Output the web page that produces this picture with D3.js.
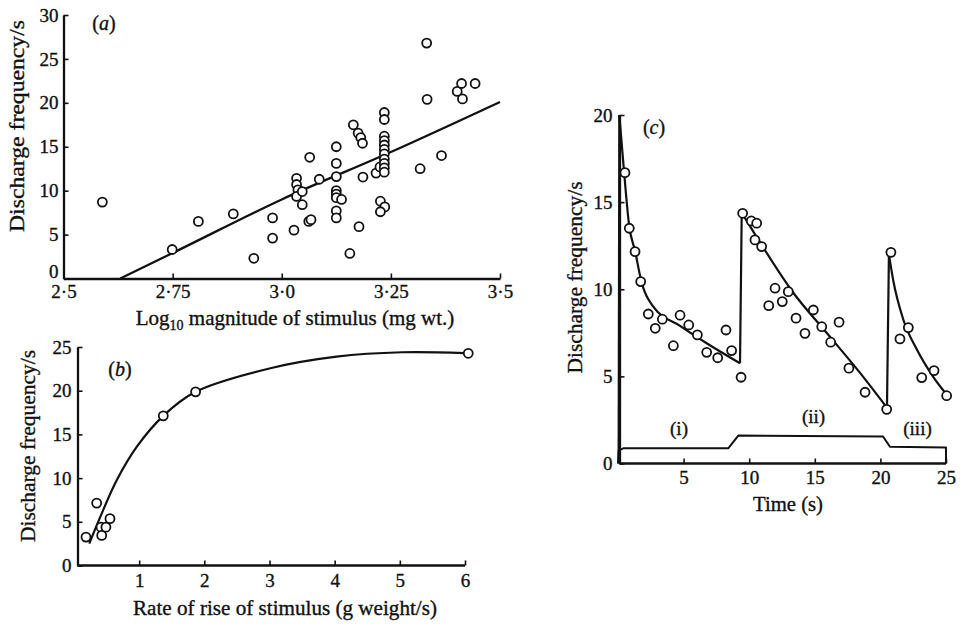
<!DOCTYPE html>
<html>
<head>
<meta charset="utf-8">
<script src="https://cdn.jsdelivr.net/npm/d3@7"></script>
<style>
  html, body { margin: 0; padding: 0; background: #fff; }
  svg { display: block; }
  text { font-family: "Liberation Serif", "Times New Roman", serif; fill: #111; stroke: #111; stroke-width: 0.35px; }
</style>
</head>
<body>
<svg id="chart" width="960" height="626"></svg>
<script>
// ---------- Panel (a): log stimulus vs discharge ----------
const aLogStim = [2.589, 2.749, 2.809, 2.889, 2.936, 2.979, 2.979, 3.028, 3.034, 3.034, 3.037, 3.034, 3.047, 3.047,
  3.064, 3.086, 3.062, 3.067, 3.125, 3.125, 3.125, 3.125, 3.125, 3.125, 3.137, 3.125, 3.125,
  3.156, 3.164, 3.175, 3.181, 3.185, 3.186, 3.177, 3.216, 3.225, 3.226, 3.236, 3.226, 3.235, 3.235,
  3.235, 3.235, 3.235, 3.235, 3.235, 3.235, 3.235, 3.235, 3.235,
  3.317, 3.332, 3.333, 3.366, 3.402, 3.412, 3.414, 3.443];
const aFreq = [8.7, 3.3, 6.5, 7.35, 2.3, 6.9, 4.6, 5.5, 11.4, 10.7, 10.1, 9.35, 9.9, 8.4,
  13.8, 11.3, 6.5, 6.7, 15.0, 13.1, 11.6, 10.0, 9.6, 9.2, 9.0, 7.7, 6.9,
  2.85, 17.5, 16.55, 16.05, 15.4, 11.55, 5.9, 12.0, 12.7, 8.8, 8.15, 7.6, 18.9, 18.1,
  16.2, 15.7, 15.2, 14.7, 14.2, 13.6, 13.1, 12.6, 12.1,
  12.5, 26.8, 20.4, 14.0, 21.3, 22.2, 20.45, 22.2];
const aFitX = [2.63, 2.75, 3.0, 3.25, 3.5];
const aFitY = [0, 2.9, 9.0, 14.4, 20.1];
const aXTicks = [2.5, 2.75, 3.0, 3.25, 3.5];
const aXTickLabels = ["2·5", "2·75", "3·0", "3·25", "3·5"];
const aYTicks = [0, 5, 10, 15, 20, 25, 30];

// ---------- Panel (b): rate of rise vs discharge ----------
const bRate = [0.184, 0.348, 0.414, 0.425, 0.49, 0.552, 1.37, 1.866, 6.05];
const bFreq = [3.25, 7.14, 4.39, 3.44, 4.39, 5.36, 17.12, 19.87, 24.28];
const bFitX = [0.235, 0.4, 0.655, 0.962, 1.37, 1.866, 3.03, 4.03, 5.03, 6.0];
const bFitY = [2.5, 5.5, 9.75, 13.57, 17.12, 19.87, 22.6, 23.9, 24.4, 24.3];
const bXTicks = [1, 2, 3, 4, 5, 6];
const bYTicks = [0, 5, 10, 15, 20, 25];

// ---------- Panel (c): time course ----------
const cTime = [0.53, 0.86, 1.30, 1.73, 2.31, 2.84, 3.38, 4.22, 4.73, 5.39, 6.05, 6.76, 7.6, 8.23, 8.66, 9.38,
  9.5, 10.16, 10.57, 10.44, 10.95, 11.49, 11.97, 12.52, 12.98, 13.57, 14.25, 14.89, 15.53, 16.21, 16.85, 17.6, 18.83, 20.48,
  20.8, 21.49, 22.13, 23.15, 24.09, 25.05];
const cFreq = [16.69, 13.5, 12.16, 10.44, 8.58, 7.76, 8.28, 6.76, 8.51, 7.95, 7.38, 6.38, 6.07, 7.66, 6.48, 4.95,
  14.36, 13.92, 13.79, 12.83, 12.45, 9.06, 10.06, 9.29, 9.86, 8.34, 7.47, 8.81, 7.85, 6.96, 8.11, 5.47, 4.09, 3.11,
  12.12, 7.15, 7.8, 4.93, 5.33, 3.89];
const cFit1T = [0.1, 0.4, 0.86, 1.3, 1.75, 2.69, 4.73, 6.76, 9.3];
const cFit1F = [20, 17.3, 13.6, 12.2, 10.55, 9.0, 7.9, 6.9, 5.75];
const cFit2T = [9.43, 10.57, 13.36, 15.9, 18.45, 20.5];
const cFit2F = [14.4, 13.0, 9.8, 7.5, 5.2, 3.2];
const cFit3T = [20.65, 20.98, 21.75, 22.77, 24.0, 25.0];
const cFit3F = [12.0, 10.5, 8.25, 6.55, 5.0, 4.0];
const cJumpT = [[0.05, 0.1], [9.3, 9.43], [20.5, 20.65]];
const cJumpF = [[0, 20], [5.75, 14.4], [3.2, 12.0]];
const stimT = [0, 0.05, 0.4, 8.4, 9.17, 20.2, 20.73, 25, 25];
const stimF = [0, 0.75, 0.87, 0.87, 1.6, 1.55, 0.96, 0.92, 0];
const stimLabels = ["(i)", "(ii)", "(iii)"];
const stimLabelT = [4.65, 14.9, 22.83];
const stimLabelF = [1.64, 2.32, 1.64];
const cXTicks = [5, 10, 15, 20, 25];
const cYTicks = [0, 5, 10, 15, 20];

const svg = d3.select("#chart");
svg.append("rect").attr("width", 960).attr("height", 626).attr("fill", "#fff");

const INK = "#111";
const AXW = 2.3;

function styleAxis(g, fs) {
  g.select(".domain").attr("stroke", INK).attr("stroke-width", AXW);
  g.selectAll(".tick line").attr("stroke", INK).attr("stroke-width", 1.6);
  g.selectAll(".tick text").attr("fill", INK)
    .style("font-family", '"Liberation Serif", "Times New Roman", serif')
    .style("font-size", fs + "px");
}

function circles(g, xs, ys, x, y) {
  g.append("g").selectAll("circle").data(xs.map((d, i) => [d, ys[i]])).join("circle")
    .attr("cx", d => x(d[0])).attr("cy", d => y(d[1])).attr("r", 4.5)
    .attr("fill", "#fff").attr("stroke", INK).attr("stroke-width", 1.8);
}

function fitLine(g, xs, ys, x, y, curve, w) {
  g.append("path").datum(xs.map((d, i) => [d, ys[i]]))
    .attr("fill", "none").attr("stroke", INK).attr("stroke-width", w || 2.2)
    .attr("stroke-linejoin", "round")
    .attr("d", d3.line().x(d => x(d[0])).y(d => y(d[1])).curve(curve || d3.curveLinear));
}

function panelLabel(g, x, y, letter) {
  const t = g.append("text").attr("x", x).attr("y", y).attr("text-anchor", "middle")
    .style("font-size", "20px");
  t.append("tspan").text("(");
  t.append("tspan").style("font-style", "italic").text(letter);
  t.append("tspan").text(")");
}

function yTitle(g, cx, cy, len, txt) {
  g.append("text").attr("transform", `translate(${cx},${cy}) rotate(-90)`)
    .attr("text-anchor", "middle").attr("dominant-baseline", "central")
    .attr("textLength", len).attr("lengthAdjust", "spacingAndGlyphs")
    .style("font-size", "21px").text(txt);
}

// ===== Panel (a) =====
{
  const g = svg.append("g");
  const x = d3.scaleLinear().domain([2.5, 3.5]).range([63.5, 500]);
  const y = d3.scaleLinear().domain([0, 30]).range([278.5, 15]);
  const xa = g.append("g").attr("transform", `translate(0,${y(0)})`)
    .call(d3.axisBottom(x).tickValues(aXTicks).tickFormat((d, i) => aXTickLabels[i])
      .tickSizeInner(-5).tickSizeOuter(0).tickPadding(6));
  styleAxis(xa, 19);
  const ya = g.append("g").attr("transform", `translate(${x(2.5)},0)`)
    .call(d3.axisLeft(y).tickValues(aYTicks).tickSizeInner(-5).tickSizeOuter(0).tickPadding(5));
  styleAxis(ya, 19);
  ya.selectAll(".tick text").filter(d => d === 0).attr("dy", "-0.05em");
  fitLine(g, aFitX, aFitY, x, y, d3.curveMonotoneX, 2.3);
  circles(g, aLogStim, aFreq, x, y);
  panelLabel(g, 104, 30, "a");
  yTitle(g, 17, 126, 212, "Discharge frequency/s");
  const t = g.append("text").attr("x", 295).attr("y", 325).attr("text-anchor", "middle")
    .style("font-size", "21px");
  t.append("tspan").text("Log");
  t.append("tspan").attr("dy", 5).style("font-size", "14px").text("10");
  t.append("tspan").attr("dy", -5).text(" magnitude of stimulus (mg wt.)");
}

// ===== Panel (b) =====
{
  const g = svg.append("g");
  const x = d3.scaleLinear().domain([0, 6]).range([74, 465]);
  const y = d3.scaleLinear().domain([0, 25]).range([565.5, 347]);
  const x0 = 77.5;
  const xa = g.append("g").attr("transform", `translate(0,${y(0)})`)
    .call(d3.axisBottom(x).tickValues(bXTicks).tickFormat(d3.format("d"))
      .tickSizeInner(-5).tickSizeOuter(0).tickPadding(8));
  xa.select(".domain").attr("d", `M${x0},0H${x(6)}`);
  styleAxis(xa, 19);
  const ya = g.append("g").attr("transform", `translate(${x0},0)`)
    .call(d3.axisLeft(y).tickValues(bYTicks).tickSizeInner(-5).tickSizeOuter(0).tickPadding(6));
  styleAxis(ya, 19);
  fitLine(g, bFitX, bFitY, x, y, d3.curveCatmullRom.alpha(0.5), 2.2);
  circles(g, bRate, bFreq, x, y);
  panelLabel(g, 120, 376, "b");
  yTitle(g, 28, 446, 192, "Discharge frequency/s");
  g.append("text").attr("x", 285).attr("y", 615).attr("text-anchor", "middle")
    .attr("textLength", 304).attr("lengthAdjust", "spacingAndGlyphs")
    .style("font-size", "21px").text("Rate of rise of stimulus (g weight/s)");
}

// ===== Panel (c) =====
{
  const g = svg.append("g");
  const x = d3.scaleLinear().domain([0, 25]).range([618, 946]);
  const y = d3.scaleLinear().domain([0, 20]).range([463.5, 115]);
  const x0 = 619.5;
  const xa = g.append("g").attr("transform", `translate(0,${y(0)})`)
    .call(d3.axisBottom(x).tickValues(cXTicks).tickFormat(d3.format("d"))
      .tickSizeInner(-5).tickSizeOuter(0).tickPadding(7));
  xa.select(".domain").attr("d", `M${x0},0H${x(25)}`);
  styleAxis(xa, 19);
  const ya = g.append("g").attr("transform", `translate(${x0},0)`)
    .call(d3.axisLeft(y).tickValues(cYTicks).tickSizeInner(-5).tickSizeOuter(0).tickPadding(7));
  styleAxis(ya, 19);
  // stimulus trace
  fitLine(g, stimT, stimF, x, y, d3.curveLinear, 2.0);
  // fitted response
  fitLine(g, cFit1T, cFit1F, x, y, d3.curveMonotoneX, 2.2);
  fitLine(g, cFit2T, cFit2F, x, y, d3.curveMonotoneX, 2.2);
  fitLine(g, cFit3T, cFit3F, x, y, d3.curveMonotoneX, 2.2);
  cJumpT.forEach((tt, i) => fitLine(g, tt, cJumpF[i], x, y, d3.curveLinear, 2.2));
  circles(g, cTime, cFreq, x, y);
  stimLabels.forEach((s, i) => {
    g.append("text").attr("x", x(stimLabelT[i])).attr("y", y(stimLabelF[i]))
      .attr("text-anchor", "middle").style("font-size", "19px").text(s);
  });
  panelLabel(g, 654, 134, "c");
  yTitle(g, 575, 277.5, 192, "Discharge frequency/s");
  g.append("text").attr("x", 788).attr("y", 511).attr("text-anchor", "middle")
    .attr("textLength", 70).attr("lengthAdjust", "spacingAndGlyphs")
    .style("font-size", "21px").text("Time (s)");
}
</script>
</body>
</html>
